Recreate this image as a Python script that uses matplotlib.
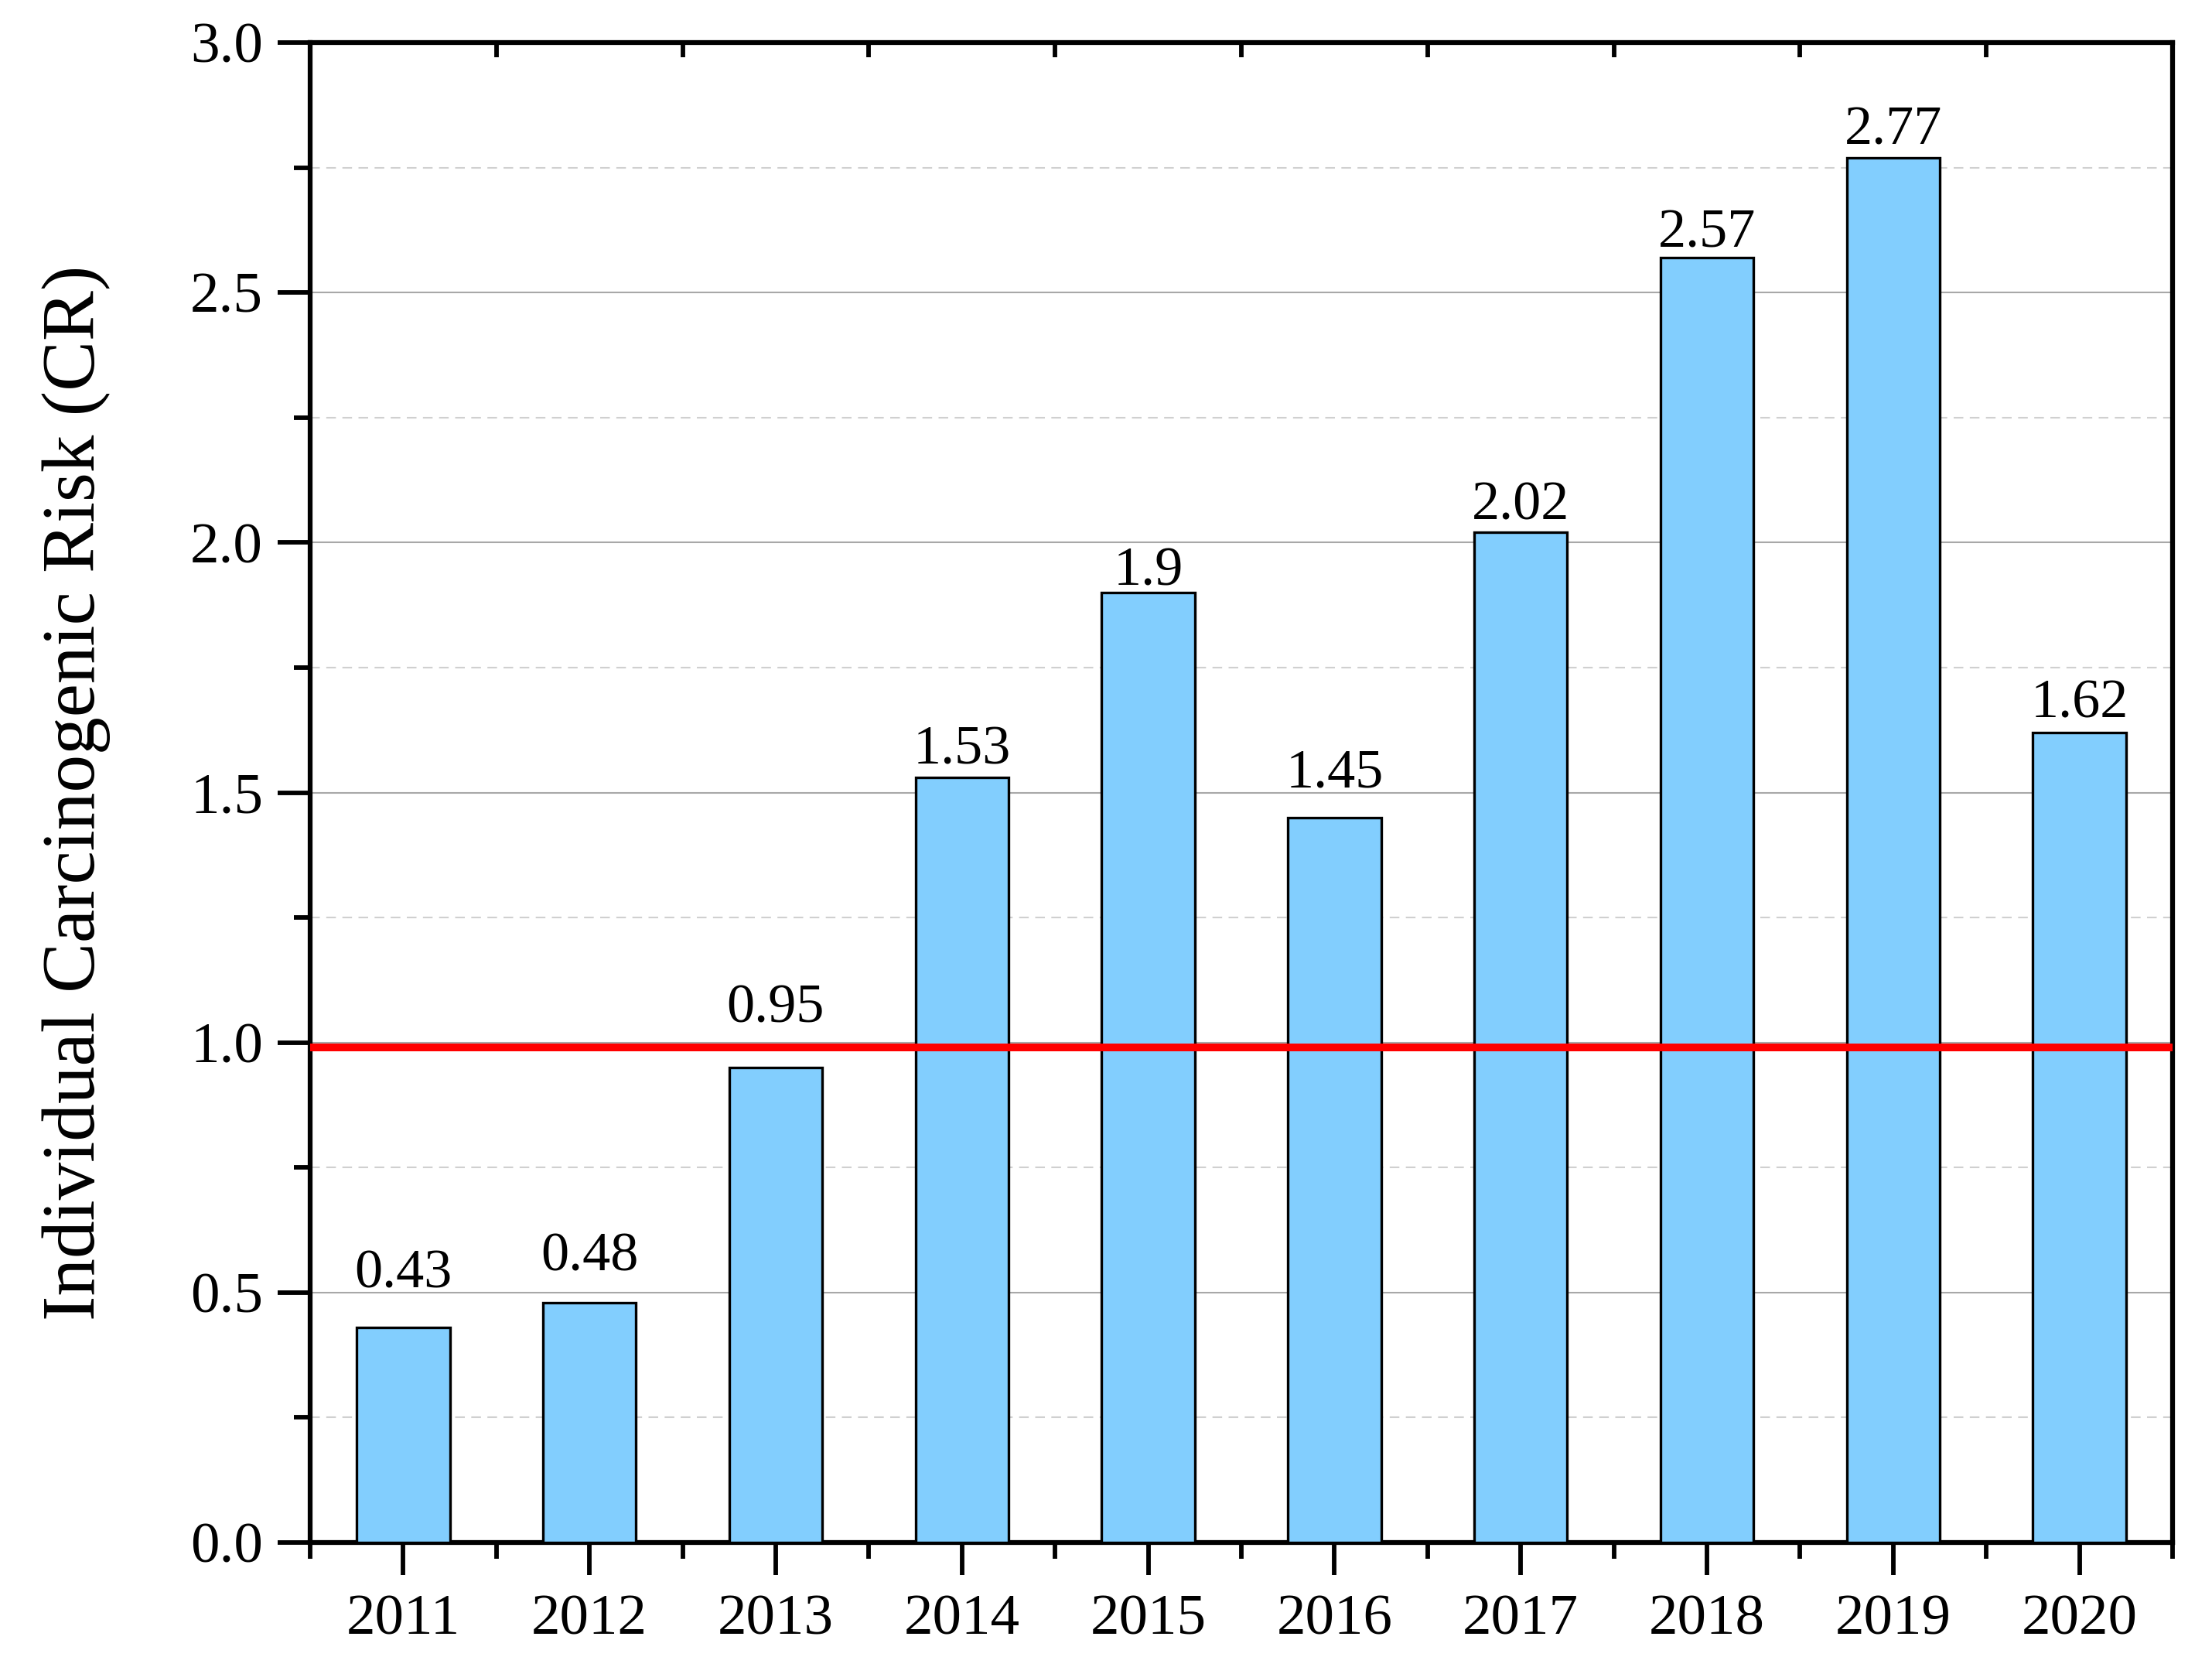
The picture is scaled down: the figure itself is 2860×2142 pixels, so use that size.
import matplotlib
matplotlib.use("Agg")
import matplotlib.pyplot as plt
from matplotlib.ticker import MultipleLocator, FixedLocator, FormatStrFormatter
import numpy as np

years = ["2011", "2012", "2013", "2014", "2015", "2016", "2017", "2018", "2019", "2020"]
cr_values = [0.43, 0.48, 0.95, 1.53, 1.90, 1.45, 2.02, 2.57, 2.77, 1.62]
value_labels = ["0.43", "0.48", "0.95", "1.53", "1.9", "1.45", "2.02", "2.57", "2.77", "1.62"]
threshold = 0.99
# per-label vertical offsets (points) above bar tops, as placed in the original
label_offsets = [37, 30, 42, 13, 7, 28, 12, 10, 12, 14]

plt.rcParams['font.family'] = ['Liberation Serif', 'DejaVu Serif']

fig = plt.figure(figsize=(28.6, 21.42), dpi=100)
ax = fig.add_axes([401/2860, 1 - 1994/2142, (2809-401)/2860, (1994-55)/2142])

x = np.arange(len(years))
ax.bar(x, cr_values, width=0.5, color='#82CEFE', edgecolor='black',
       linewidth=2.4, zorder=3)

for xi, v, lab, off in zip(x, cr_values, value_labels, label_offsets):
    ax.annotate(lab, (xi, v), xytext=(0, off), textcoords='offset points',
                ha='center', va='baseline', fontsize=52, zorder=5)

ax.axhline(threshold, color='#FF0000', linewidth=7.2, zorder=4)

ax.set_xlim(-0.5, len(years) - 0.5)
ax.set_ylim(0, 3.0)
ax.set_xticks(x)
ax.set_xticklabels(years)
ax.xaxis.set_minor_locator(FixedLocator(np.arange(-0.5, len(years), 1.0)))
ax.yaxis.set_major_locator(MultipleLocator(0.5))
ax.yaxis.set_minor_locator(MultipleLocator(0.25))
ax.yaxis.set_major_formatter(FormatStrFormatter('%.1f'))

ax.tick_params(axis='both', which='major', direction='out', length=30, width=4.2,
               labelsize=54, pad=14)
ax.tick_params(axis='x', which='major', pad=18)
ax.tick_params(axis='both', which='minor', direction='out', length=15, width=4.2)
ax.tick_params(axis='x', which='minor', top=False, bottom=True)

# top inward minor ticks
top = ax.secondary_xaxis('top')
top.set_xticks([])
top.xaxis.set_minor_locator(FixedLocator(np.arange(0.5, len(years) - 1, 1.0)))
top.tick_params(which='minor', direction='in', length=14, width=4.2)
top.spines['top'].set_visible(False)

for s in ax.spines.values():
    s.set_linewidth(4.5)

ax.yaxis.grid(True, which='major', color='#A8A8A8', linewidth=1.5, zorder=0)
ax.yaxis.grid(True, which='minor', color='#D0D0D0', linewidth=1.5,
              linestyle=(0, (6, 4)), zorder=0)
ax.set_axisbelow(True)

ax.set_ylabel('Individual Carcinogenic Risk (CR)', fontsize=70, labelpad=74)

fig.savefig('out.png', dpi=100)
